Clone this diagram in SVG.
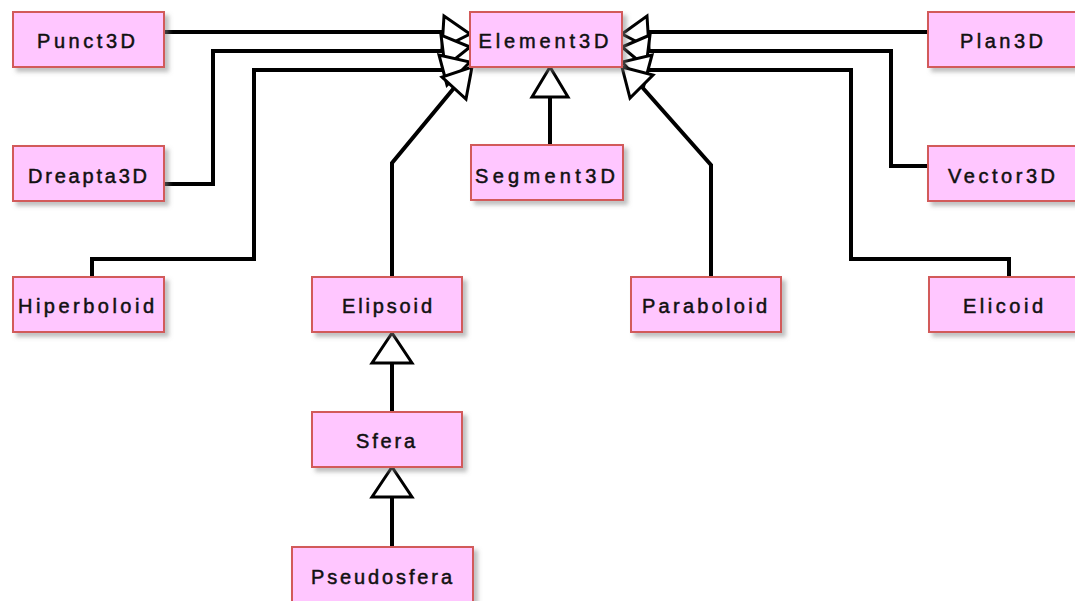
<svg xmlns="http://www.w3.org/2000/svg" width="1075" height="601" viewBox="0 0 1075 601">
  <style>
    .box { fill: #ffc6ff; stroke: #d25a5a; stroke-width: 2; filter: url(#shadow); }
    .label { font-family: "Liberation Sans", Arial, sans-serif; font-size: 20px; fill: #111; stroke: #111; stroke-width: 0.5; text-anchor: middle; }
    .wire { fill: none; stroke: #000; stroke-width: 4; stroke-linejoin: miter; }
    .head { fill: #fff; stroke: #000; stroke-width: 3; stroke-linejoin: miter; }
  </style>
  <defs>
    <filter id="shadow" x="-10%" y="-20%" width="130%" height="150%">
      <feDropShadow dx="4" dy="4" stdDeviation="2" flood-color="#808080" flood-opacity="0.5"/>
    </filter>
  </defs>
  <rect width="1075" height="601" fill="#fff"/>

  <!-- generalization connectors -->
  <g id="connectors">
    <!-- left side into Element3D -->
    <polyline class="wire" points="164,32 443,32"/>
    <polyline class="wire" points="164,184 213,184 213,51 443,51"/>
    <polyline class="wire" points="92,277 92,259 254,259 254,70 443,70"/>
    <polyline class="wire" points="392,277 392,163 454,88"/>
    <!-- right side into Element3D -->
    <polyline class="wire" points="928,32 648,32"/>
    <polyline class="wire" points="928,166 891,166 891,51 648,51"/>
    <polyline class="wire" points="1009,277 1009,259 851,259 851,70 648,70"/>
    <polyline class="wire" points="711,277 711,165 642,87"/>
    <!-- Segment3D -->
    <polyline class="wire" points="550,145 550,97"/>
    <!-- Elipsoid chain -->
    <polyline class="wire" points="392,412 392,363"/>
    <polyline class="wire" points="392,547 392,497"/>

    <!-- hollow triangle heads -->
    <polygon class="head" points="470,34 444,16 442,48"/>
    <polygon class="head" points="470,47 445,67 441,35"/>
    <polygon class="head" points="470,62 447,85 439,55"/>
    <polygon class="head" points="472,67 466,99 442,77"/>
    <polygon class="head" points="622,34 647,16 649,48"/>
    <polygon class="head" points="622,47 646,67 650,35"/>
    <polygon class="head" points="622,62 644,85 652,55"/>
    <polygon class="head" points="622,67 653,75 630,98"/>
    <polygon class="head" points="550,67 532,97 568,97"/>
    <polygon class="head" points="392,333 372,363 412,363"/>
    <polygon class="head" points="392,467 372,497 412,497"/>
  </g>

  <g id="Element3D">
    <rect class="box" x="470" y="12" width="152" height="55"/>
    <text class="label" x="543.5" y="48" textLength="130" lengthAdjust="spacing">Element3D</text>
  </g>
  <g id="Punct3D">
    <rect class="box" x="13" y="12" width="151" height="55"/>
    <text class="label" x="86" y="48" textLength="98" lengthAdjust="spacing">Punct3D</text>
  </g>
  <g id="Dreapta3D">
    <rect class="box" x="13" y="146" width="151" height="55"/>
    <text class="label" x="87.5" y="183" textLength="119" lengthAdjust="spacing">Dreapta3D</text>
  </g>
  <g id="Hiperboloid">
    <rect class="box" x="13" y="277" width="151" height="55"/>
    <text class="label" x="86" y="313" textLength="136" lengthAdjust="spacing">Hiperboloid</text>
  </g>
  <g id="Segment3D">
    <rect class="box" x="471" y="145" width="152" height="55"/>
    <text class="label" x="545" y="183" textLength="140" lengthAdjust="spacing">Segment3D</text>
  </g>
  <g id="Elipsoid">
    <rect class="box" x="312" y="277" width="150" height="55"/>
    <text class="label" x="387" y="313" textLength="90" lengthAdjust="spacing">Elipsoid</text>
  </g>
  <g id="Sfera">
    <rect class="box" x="312" y="412" width="150" height="55"/>
    <text class="label" x="385.5" y="448" textLength="59" lengthAdjust="spacing">Sfera</text>
  </g>
  <g id="Pseudosfera">
    <rect class="box" x="292" y="547" width="181" height="56"/>
    <text class="label" x="381.5" y="584" textLength="141" lengthAdjust="spacing">Pseudosfera</text>
  </g>
  <g id="Paraboloid">
    <rect class="box" x="631" y="277" width="150" height="55"/>
    <text class="label" x="704.5" y="313" textLength="125" lengthAdjust="spacing">Paraboloid</text>
  </g>
  <g id="Plan3D">
    <rect class="box" x="928" y="12" width="152" height="55"/>
    <text class="label" x="1001.5" y="48" textLength="83" lengthAdjust="spacing">Plan3D</text>
  </g>
  <g id="Vector3D">
    <rect class="box" x="928" y="146" width="152" height="55"/>
    <text class="label" x="1001.5" y="183" textLength="107" lengthAdjust="spacing">Vector3D</text>
  </g>
  <g id="Elicoid">
    <rect class="box" x="929" y="277" width="152" height="55"/>
    <text class="label" x="1003" y="313" textLength="80" lengthAdjust="spacing">Elicoid</text>
  </g>
</svg>
